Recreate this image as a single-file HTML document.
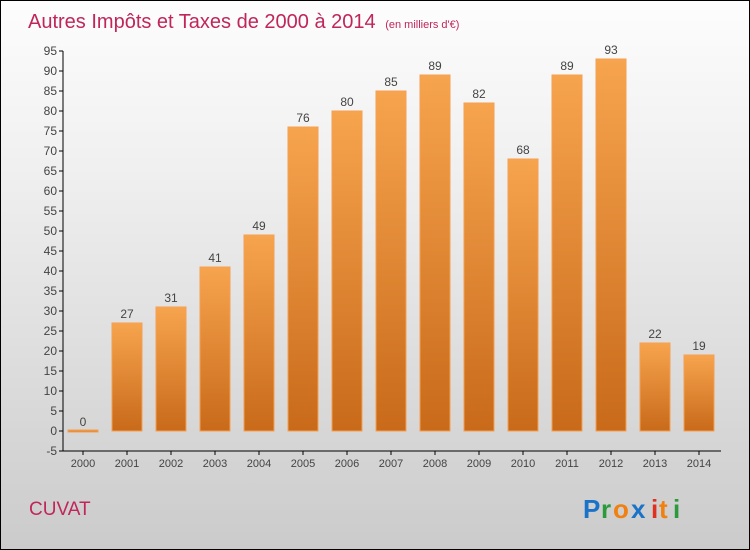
<!DOCTYPE html>
<html><head><meta charset="utf-8"><style>
body{margin:0}
#c{position:relative;width:748px;height:548px;border:1px solid #000;background:linear-gradient(#fdfdfd,#f0f0f0 30%,#cbcbcb);font-family:"Liberation Sans",sans-serif;overflow:hidden}
</style></head><body>
<div id="c">
<svg width="748" height="548" style="position:absolute;left:0;top:0">
<defs><linearGradient id="g" x1="0" y1="0" x2="0" y2="1"><stop offset="0" stop-color="#f7a44e"/><stop offset="1" stop-color="#c86a1a"/></linearGradient></defs>
<text x="27" y="27" font-size="20" fill="#c0265a">Autres Impôts et Taxes de 2000 à 2014 <tspan font-size="11" dx="4">(en milliers d'€)</tspan></text>
<g id="ax"></g><g id="bars"></g>
<text x="28" y="514" font-size="19" fill="#c0265a">CUVAT</text>
<g font-size="26" font-weight="bold" font-family="Liberation Sans, sans-serif">
<text x="582" y="517" fill="#1a73c8">P</text><text x="600" y="517" fill="#2a9a3a">r</text><text x="612" y="517" fill="#f08010">o</text><text x="630" y="517" fill="#1a73c8">x</text><text x="650" y="517" fill="#e03020">i</text><text x="658" y="517" fill="#f08010">t</text><text x="672" y="517" fill="#2a9a3a">i</text></g>
</svg></div>
<script>
const years=["2000","2001","2002","2003","2004","2005","2006","2007","2008","2009","2010","2011","2012","2013","2014"];
const values=[0,27,31,41,49,76,80,85,89,82,68,89,93,22,19];
const yTicks=[-5,0,5,10,15,20,25,30,35,40,45,50,55,60,65,70,75,80,85,90,95];
const NS="http://www.w3.org/2000/svg";
const y=v=>430-v*4, x=i=>82+i*44;
function mk(t,a,p){const e=document.createElementNS(NS,t);for(const k in a)e.setAttribute(k,a[k]);p.appendChild(e);return e;}
const ax=document.getElementById('ax'),bars=document.getElementById('bars');
let l=mk('line',{x1:62,y1:50,x2:62,y2:450,stroke:'#000'},ax);


l=mk('line',{x1:62,y1:450,x2:720,y2:450,stroke:'#000'},ax);


yTicks.forEach(v=>{mk('line',{x1:58,y1:y(v),x2:62,y2:y(v),stroke:'#000'},ax);
const t=mk('text',{x:56,y:y(v)+4,'font-size':12,'text-anchor':'end',fill:'#444'},ax);t.textContent=v;

});
years.forEach((yr,i)=>{mk('line',{x1:x(i),y1:450,x2:x(i),y2:454,stroke:'#000'},ax);
const t=mk('text',{x:x(i),y:466,'font-size':11,'text-anchor':'middle',fill:'#444'},ax);t.textContent=yr;


const v=values[i];
const r=mk('rect',{x:x(i)-15,y:v>0?y(v):y(0)-1,width:30,height:v>0?v*4:2,fill:'url(#g)',stroke:'#f5a050','stroke-width':1},bars);


const lb=mk('text',{x:x(i),y:y(v)-5,'font-size':12,'text-anchor':'middle',fill:'#444'},bars);lb.textContent=v;

});
</script>
</body></html>
